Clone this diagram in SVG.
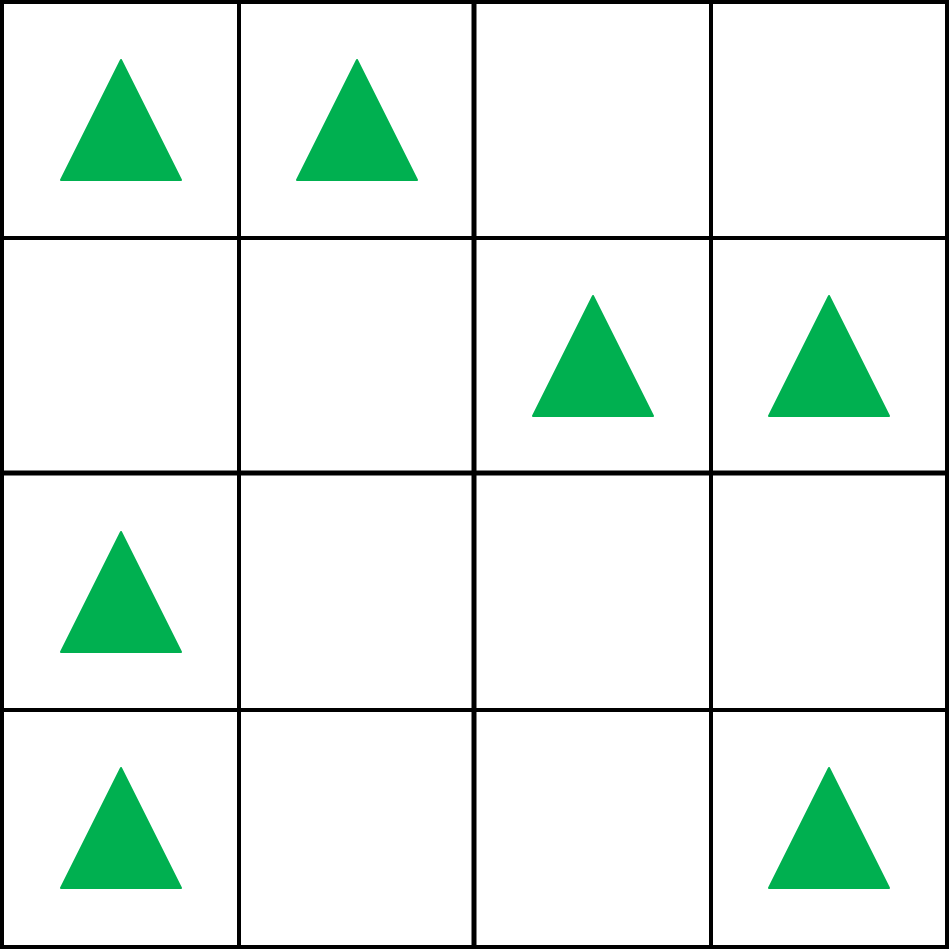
<svg xmlns="http://www.w3.org/2000/svg" width="949" height="949" viewBox="0 0 949 949">
<style>
.g{stroke:#000;stroke-width:4;fill:none}
.gm{stroke:#000;stroke-width:5;fill:none}
.t{fill:#00B050;stroke:#00B050;stroke-width:2;stroke-linejoin:round}
</style>
<defs>
<path id="tri" class="t" d="M0,-60 L60,60 L-60,60 Z"/>
</defs>
<rect width="949" height="949" fill="#fff"/>
<g id="grid">
<rect class="g" x="2" y="2" width="945" height="945"/>
<line class="g" x1="239" y1="0" x2="239" y2="949"/>
<line class="gm" x1="474" y1="0" x2="474" y2="949"/>
<line class="g" x1="711" y1="0" x2="711" y2="949"/>
<line class="g" x1="0" y1="238" x2="949" y2="238"/>
<line class="gm" x1="0" y1="473" x2="949" y2="473"/>
<line class="g" x1="0" y1="710" x2="949" y2="710"/>
</g>
<g id="t11"><use href="#tri" x="121" y="120"/></g>
<g id="t12"><use href="#tri" x="357" y="120"/></g>
<g id="t23"><use href="#tri" x="593" y="356"/></g>
<g id="t24"><use href="#tri" x="829" y="356"/></g>
<g id="t31"><use href="#tri" x="121" y="592"/></g>
<g id="t41"><use href="#tri" x="121" y="828"/></g>
<g id="t44"><use href="#tri" x="829" y="828"/></g>
</svg>
